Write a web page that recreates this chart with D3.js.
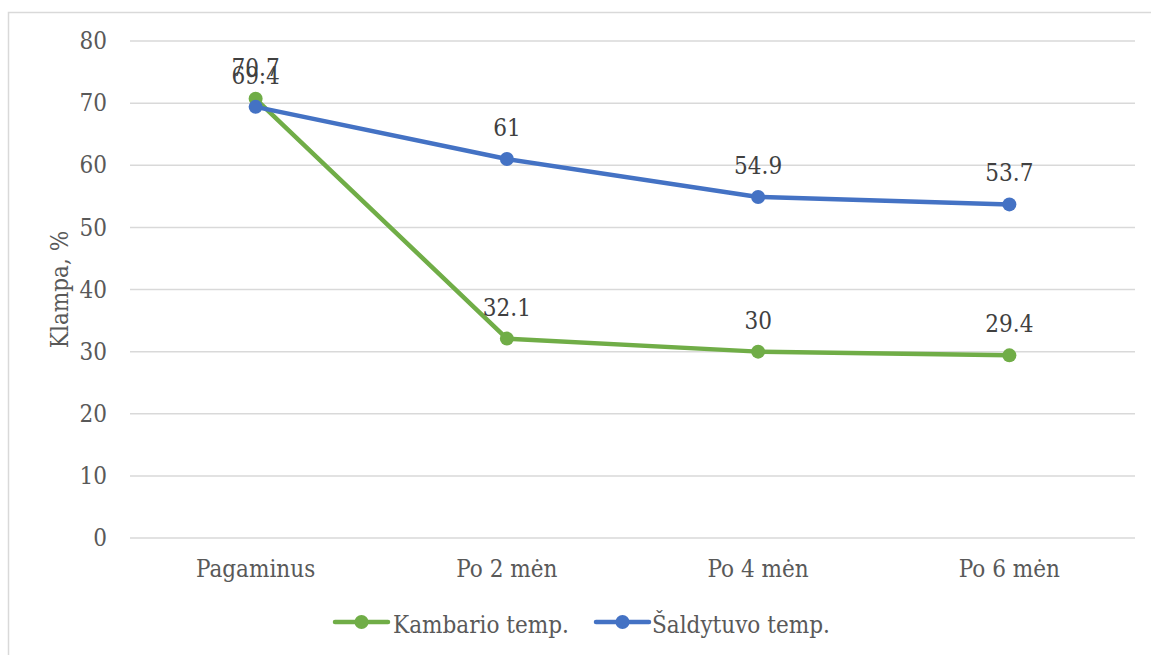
<!DOCTYPE html>
<html>
<head>
<meta charset="utf-8">
<script src="https://cdn.jsdelivr.net/npm/d3@7"></script>
<style>
  html, body { margin: 0; padding: 0; background: #fff; }
  svg { display: block; }
</style>
</head>
<body>
<svg id="chart" width="1151" height="655"></svg>
<script>
// Viscosity (%) of samples stored at room vs. fridge temperature
const categories = ["Pagaminus", "Po 2 mėn", "Po 4 mėn", "Po 6 mėn"];
const roomTemp = [70.7, 32.1, 30, 29.4];
const fridgeTemp = [69.4, 61, 54.9, 53.7];
const seriesNames = ["Kambario temp.", "Šaldytuvo temp."];
const seriesColors = ["#70AD47", "#4472C4"];
const yTicks = [0, 10, 20, 30, 40, 50, 60, 70, 80];
const yTitle = "Klampa, %";

const series = [
  { name: seriesNames[0], color: seriesColors[0], values: roomTemp },
  { name: seriesNames[1], color: seriesColors[1], values: fridgeTemp }
];

const FONT = '"DejaVu Serif Condensed", "DejaVu Serif", serif';
const FS = 24;

const svg = d3.select("#chart");
const W = 1151, H = 655;
const plot = { left: 130, right: 1135, top: 41, bottom: 538 };

// chart frame
svg.append("rect")
  .attr("x", 8.5).attr("y", 12.5)
  .attr("width", W).attr("height", H)
  .attr("fill", "none").attr("stroke", "#d9d9d9").attr("stroke-width", 1.5);

const x = d3.scaleBand().domain(categories).range([plot.left, plot.right]);
const y = d3.scaleLinear().domain([0, 80]).range([plot.bottom, plot.top]);

// gridlines
svg.append("g").selectAll("line").data(yTicks).join("line")
  .attr("x1", plot.left).attr("x2", plot.right)
  .attr("y1", d => y(d)).attr("y2", d => y(d))
  .attr("stroke", "#d9d9d9").attr("stroke-width", 1.5);

// y axis labels
const yAxis = svg.append("g")
  .attr("transform", `translate(${plot.left},0)`)
  .call(d3.axisLeft(y).tickValues(yTicks).tickSize(0).tickPadding(23));
yAxis.attr("font-family", FONT).attr("font-size", FS);
yAxis.select(".domain").remove();
yAxis.selectAll("text").attr("fill", "#595959");

// x axis labels
const xAxis = svg.append("g")
  .attr("transform", `translate(0,${plot.bottom})`)
  .call(d3.axisBottom(x).tickSize(0).tickPadding(22));
xAxis.attr("font-family", FONT).attr("font-size", FS);
xAxis.select(".domain").remove();
xAxis.selectAll("text").attr("fill", "#595959");

// y axis title
svg.append("text")
  .attr("transform", `translate(68,${(plot.top + plot.bottom) / 2}) rotate(-90)`)
  .attr("text-anchor", "middle")
  .attr("font-family", FONT)
  .attr("font-size", FS).attr("fill", "#595959")
  .text(yTitle);

const cx = c => x(c) + x.bandwidth() / 2;
const line = d3.line().x((d, i) => cx(categories[i])).y(d => y(d));

series.forEach(s => {
  const g = svg.append("g");
  g.append("path")
    .attr("d", line(s.values))
    .attr("fill", "none").attr("stroke", s.color)
    .attr("stroke-width", 4.5).attr("stroke-linejoin", "round").attr("stroke-linecap", "round");
  g.selectAll("circle").data(s.values).join("circle")
    .attr("cx", (d, i) => cx(categories[i])).attr("cy", d => y(d))
    .attr("r", 7).attr("fill", s.color);
});

// data labels
series.forEach(s => {
  svg.append("g").selectAll("text").data(s.values).join("text")
    .attr("x", (d, i) => cx(categories[i]))
    .attr("y", d => y(d) - 23)
    .attr("text-anchor", "middle")
    .attr("font-family", FONT)
    .attr("font-size", FS).attr("fill", "#404040")
    .text(d => d);
});

// legend
const legendItems = [
  { x0: 335, x1: 388, tx: 393 },
  { x0: 596, x1: 649, tx: 652 }
];
series.forEach((s, i) => {
  const L = legendItems[i];
  const ly = 622;
  svg.append("line")
    .attr("x1", L.x0).attr("x2", L.x1).attr("y1", ly).attr("y2", ly)
    .attr("stroke", s.color).attr("stroke-width", 4.5).attr("stroke-linecap", "round");
  svg.append("circle")
    .attr("cx", (L.x0 + L.x1) / 2).attr("cy", ly).attr("r", 7).attr("fill", s.color);
  svg.append("text")
    .attr("x", L.tx).attr("y", 633)
    .attr("font-family", FONT)
    .attr("font-size", FS).attr("fill", "#595959")
    .text(s.name);
});
</script>
</body>
</html>
